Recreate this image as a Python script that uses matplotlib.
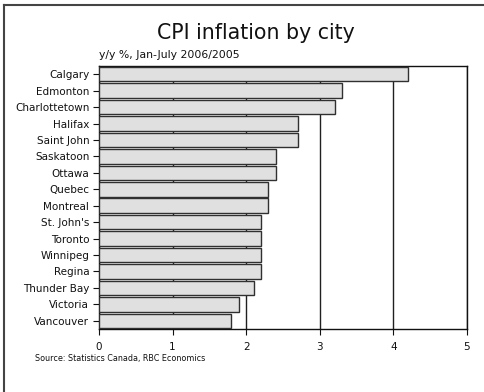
import matplotlib
matplotlib.use("Agg")
import matplotlib.pyplot as plt
from matplotlib.lines import Line2D

cities = ["Calgary", "Edmonton", "Charlottetown", "Halifax", "Saint John",
          "Saskatoon", "Ottawa", "Quebec", "Montreal", "St. John's",
          "Toronto", "Winnipeg", "Regina", "Thunder Bay", "Victoria",
          "Vancouver"]
inflation = [4.2, 3.3, 3.2, 2.7, 2.7, 2.4, 2.4, 2.3, 2.3, 2.2,
             2.2, 2.2, 2.2, 2.1, 1.9, 1.8]
x_ticks = [0, 1, 2, 3, 4, 5]

W, H = 485, 392
fig = plt.figure(figsize=(W / 100, H / 100), dpi=100)
fig.patch.set_facecolor("white")

# axes box in pixel coordinates
left, right, top, bottom = 99, 467, 66, 329
ax = fig.add_axes([left / W, 1 - bottom / H, (right - left) / W, (bottom - top) / H])

pos = list(range(len(cities)))
ax.barh(pos, inflation, height=0.88, color="#e0e0e0", edgecolor="#303030",
        linewidth=1.0, zorder=3)
ax.set_ylim(len(cities) - 0.5, -0.5)
ax.set_xlim(0, 5)
ax.set_xticks(x_ticks)
ax.set_xticklabels([str(t) for t in x_ticks])
ax.set_yticks(pos)
ax.set_yticklabels(cities)
ax.xaxis.grid(True, color="#202020", linewidth=1.0, zorder=0)
ax.set_axisbelow(True)
ax.tick_params(axis="both", labelsize=7.5, colors="#111111", length=4,
               width=0.8, direction="out", pad=3)
ax.tick_params(axis="x", pad=5)
for s in ax.spines.values():
    s.set_color("#111111")
    s.set_linewidth(1.0)

fig.text(256 / W, 1 - 33 / H, "CPI inflation by city", ha="center", va="center",
         fontsize=14.8, color="#111111")
fig.text(99 / W, 1 - 55 / H, "y/y %, Jan-July 2006/2005", ha="left", va="center",
         fontsize=7.8, color="#111111")
fig.text(35 / W, 1 - 359 / H, "Source: Statistics Canada, RBC Economics",
         ha="left", va="center", fontsize=5.8, color="#111111")

# frame lines along top and left edges of the figure
fig.add_artist(Line2D([4.5 / W, 4.5 / W], [1 - 5 / H, 0], transform=fig.transFigure,
                      color="#444444", linewidth=1.5))
fig.add_artist(Line2D([4.5 / W, 1], [1 - 5 / H, 1 - 5 / H], transform=fig.transFigure,
                      color="#444444", linewidth=1.5))

fig.savefig("out.png", dpi=100, facecolor="white")
